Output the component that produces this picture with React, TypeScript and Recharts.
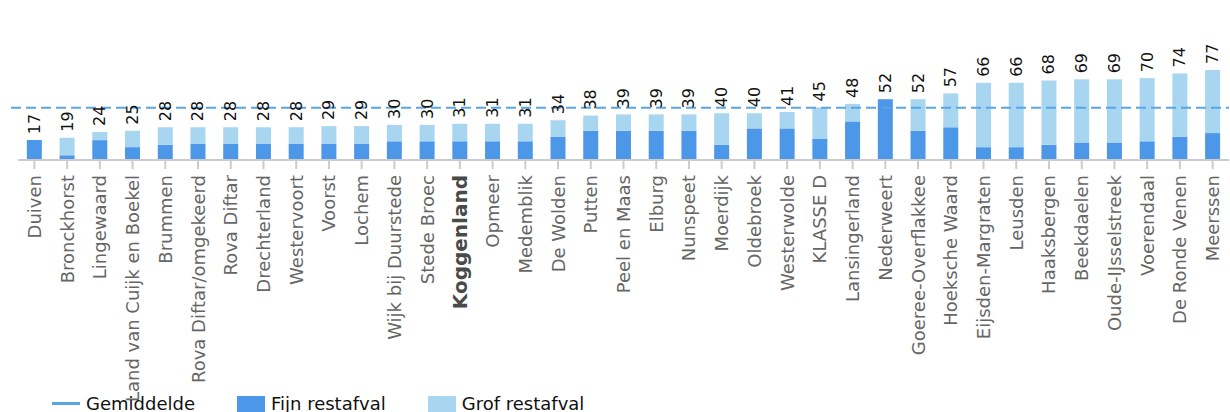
import { BarChart, Bar, XAxis, YAxis, ReferenceLine, LabelList } from "recharts";

const categories = [
  "Duiven", "Bronckhorst", "Lingewaard", "Land van Cuijk en Boekel", "Brummen",
  "Rova Diftar/omgekeerd", "Rova Diftar", "Drechterland", "Westervoort", "Voorst",
  "Lochem", "Wijk bij Duurstede", "Stede Broec", "Koggenland", "Opmeer",
  "Medemblik", "De Wolden", "Putten", "Peel en Maas", "Elburg", "Nunspeet",
  "Moerdijk", "Oldebroek", "Westerwolde", "KLASSE D", "Lansingerland",
  "Nederweert", "Goeree-Overflakkee", "Hoeksche Waard", "Eijsden-Margraten",
  "Leusden", "Haaksbergen", "Beekdaelen", "Oude-IJsselstreek", "Voerendaal",
  "De Ronde Venen", "Meerssen",
];

const fijn = [17, 4, 17, 11, 13, 14, 14, 14, 14, 14, 14, 16, 16, 16, 16, 16, 20, 25, 25, 25, 25, 13, 27, 27, 18, 33, 52, 25, 28, 11, 11, 13, 15, 15, 16, 20, 23];
const grof = [0, 15, 7, 14, 15, 14, 14, 14, 14, 15, 15, 14, 14, 15, 15, 15, 14, 13, 14, 14, 14, 27, 13, 14, 27, 15, 0, 27, 29, 55, 55, 55, 54, 54, 54, 54, 54];

const gemiddelde = 44.7;
const highlight = "Koggenland";

const FIJN_COLOR = "#4d97e8";
const GROF_COLOR = "#a8d5f0";
const LINE_COLOR = "#5aa5e6";
const FONT = "'DejaVu Sans', Verdana, sans-serif";

const data = categories.map((name, i) => ({
  name,
  fijn: fijn[i],
  grof: grof[i],
  total: fijn[i] + grof[i],
}));

const Tick = (props: any) => {
  const { x, y, payload } = props;
  const bold = payload.value === highlight;
  return (
    <text
      x={x}
      y={y}
      transform={`rotate(-90 ${x} ${y})`}
      textAnchor="end"
      dominantBaseline="central"
      fontFamily={FONT}
      fontSize={bold ? 20 : 18}
      fontWeight={bold ? "bold" : "normal"}
      fill={bold ? "#4a4a4a" : "#666"}
    >
      {payload.value}
    </text>
  );
};

const totalText = (x: number, y: number, width: number, value: any) => {
  const cx = x + width / 2;
  const ty = y - 6;
  return (
    <text
      x={cx}
      y={ty}
      transform={`rotate(-90 ${cx} ${ty})`}
      textAnchor="start"
      dominantBaseline="central"
      fontFamily={FONT}
      fontSize={16}
      fill="#111"
    >
      {value}
    </text>
  );
};

// stapels zonder grof restafval krijgen het totaal op de fijn-laag
const LabelOnFijn = (props: any) => {
  const { x, y, width, index, value } = props;
  if (grof[index] !== 0) return null;
  return totalText(x, y, width, value);
};

const LabelOnGrof = (props: any) => {
  const { x, y, width, value } = props;
  return totalText(x, y, width, value);
};

// stippellijn iets verder naar links laten beginnen, zoals in het origineel
const AvgLine = (props: any) => {
  const { x1, x2, y1, y2 } = props;
  return (
    <line
      x1={x1 - 7}
      x2={x2}
      y1={y1}
      y2={y2}
      stroke={LINE_COLOR}
      strokeWidth={2}
      strokeDasharray="10 5"
    />
  );
};

const legendItems = [
  { label: "Gemiddelde", type: "line", color: LINE_COLOR },
  { label: "Fijn restafval", type: "rect", color: FIJN_COLOR },
  { label: "Grof restafval", type: "rect", color: GROF_COLOR },
];

export default function App() {
  return (
    <div style={{ position: "absolute", left: 0, top: 0, width: 1230, height: 412, overflow: "hidden", background: "#fff" }}>
      <BarChart
        width={1230}
        height={412}
        data={data}
        margin={{ top: 8, right: 1, left: 18, bottom: 17 }}
        barCategoryGap="27%"
      >
        <XAxis
          dataKey="name"
          interval={0}
          height={235}
          tick={<Tick />}
          tickSize={9}
          tickMargin={6}
          axisLine={{ stroke: "#ccc", strokeWidth: 2 }}
          tickLine={{ stroke: "#ccc", strokeWidth: 2 }}
        />
        <YAxis hide domain={[0, 130]} />
        <Bar dataKey="fijn" stackId="a" fill={FIJN_COLOR} isAnimationActive={false}>
          <LabelList dataKey="total" content={<LabelOnFijn />} />
        </Bar>
        <Bar dataKey="grof" stackId="a" fill={GROF_COLOR} isAnimationActive={false}>
          <LabelList dataKey="total" content={<LabelOnGrof />} />
        </Bar>
        <ReferenceLine y={gemiddelde} shape={<AvgLine />} ifOverflow="visible" />
      </BarChart>
      <div
        style={{
          position: "absolute",
          top: 394,
          left: 52,
          display: "flex",
          alignItems: "center",
          fontFamily: FONT,
          fontSize: 18,
          color: "#111",
          lineHeight: "19px",
        }}
      >
        {legendItems.map((it, i) => (
          <div key={it.label} style={{ display: "flex", alignItems: "center", marginRight: i < 2 ? 42 : 0 }}>
            {it.type === "line" ? (
              <span style={{ display: "inline-block", width: 28, height: 3, background: it.color, marginRight: 6 }} />
            ) : (
              <span style={{ display: "inline-block", width: 28, height: 16, background: it.color, marginRight: 6 }} />
            )}
            <span>{it.label}</span>
          </div>
        ))}
      </div>
    </div>
  );
}
